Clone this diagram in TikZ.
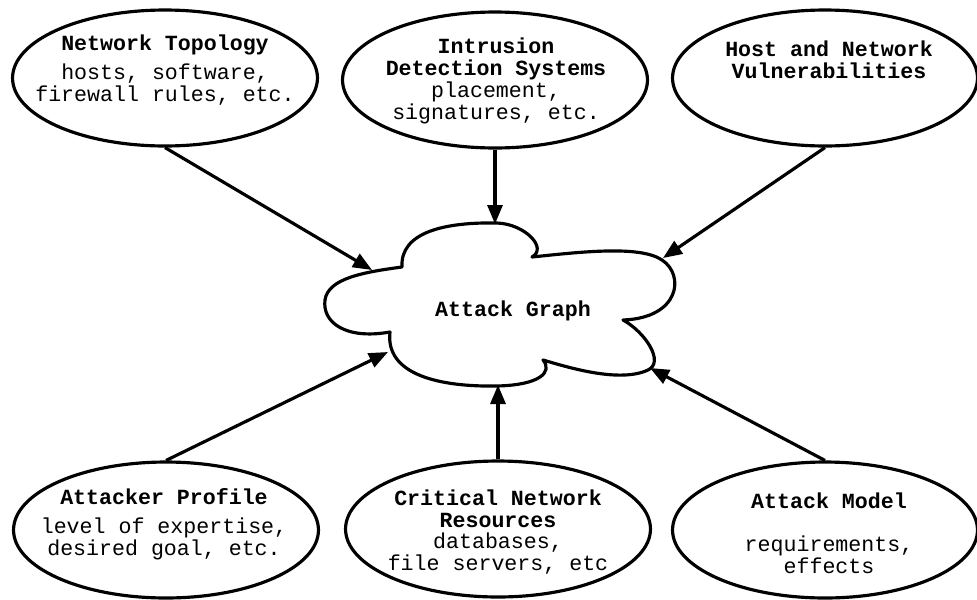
\documentclass[tikz,border=0pt]{standalone}
\usepackage{fontspec}
\setmonofont{Liberation Mono}
\usetikzlibrary{arrows.meta,shapes.geometric}
\tikzset{
  topic/.style={ellipse, draw, line width=1.8pt, minimum width=6.1cm, minimum height=2.72cm, inner sep=0pt},
  topictext/.style={align=center, inner sep=0pt, font=\ttfamily\fontsize{12.3}{12.4}\selectfont},
  feed/.style={-{Triangle[length=0.38cm,width=0.3cm]}, line width=1.8pt},
}
\newcommand{\hdr}[1]{\textbf{#1}}

\begin{document}
\begin{tikzpicture}[x=0.02cm, y=-0.02cm]
  \useasboundingbox (0,0) rectangle (977,599);
  % input ellipses
  \node[topic] (nt) at (165,78) {};
  \node[topic] (ids) at (495,80) {};
  \node[topic] (hv) at (825,78) {};
  \node[topic] (ap) at (166,530) {};
  \node[topic] (cr) at (498,529) {};
  \node[topic] (am) at (825,530) {};
  \node[topictext] (nt-t) at (165,70) {\hdr{Network Topology}\\[4pt]hosts, software,\\firewall rules, etc.};
  \node[topictext] (ids-t) at (496,81) {\hdr{Intrusion}\\\hdr{Detection Systems}\\placement,\\signatures, etc.};
  \node[topictext] (hv-t) at (829,60) {\hdr{Host and Network}\\\hdr{Vulnerabilities}};
  \node[topictext] (ap-t) at (164,524) {\hdr{Attacker Profile}\\[4pt]level of expertise,\\desired goal, etc.};
  \node[topictext] (cr-t) at (498,532) {\hdr{Critical Network}\\\hdr{Resources}\\databases,\\file servers, etc};
  \node[topictext] (am-t) at (829,533) {\hdr{Attack Model}\\[12pt]requirements,\\effects};
  % the cloud
  \draw[line width=1.8pt, line join=round] (402,267)
    .. controls (400,232) and (445,222) .. (497,223)
    .. controls (525,224) and (548,248) .. (532,257)
    .. controls (580,252) and (640,245) .. (662,260)
    .. controls (685,275) and (680,318) .. (623,320)
    .. controls (645,332) and (665,362) .. (648,370)
    .. controls (620,383) and (570,368) .. (543,360)
    .. controls (553,372) and (540,385) .. (497,386)
    .. controls (440,387) and (385,375) .. (390,332)
    .. controls (345,340) and (322,322) .. (325,300)
    .. controls (328,278) and (365,272) .. cycle;
  \node[topictext, font=\ttfamily\bfseries\fontsize{12.3}{12.4}\selectfont] (ag) at (513,311) {Attack Graph};
  \coordinate (ag-nt) at (372,270);
  \coordinate (ag-ids) at (495,224);
  \coordinate (ag-hv) at (663,258);
  \coordinate (ag-ap) at (388,352);
  \coordinate (ag-cr) at (498,385);
  \coordinate (ag-am) at (650,368);
  % arrows
  \draw[feed] (nt.south) -- (ag-nt);
  \draw[feed] (ids.south) -- (ag-ids);
  \draw[feed] (hv.south) -- (ag-hv);
  \draw[feed] (ap.north) -- (ag-ap);
  \draw[feed] (cr.north) -- (ag-cr);
  \draw[feed] (am.north) -- (ag-am);
\end{tikzpicture}
\end{document}
